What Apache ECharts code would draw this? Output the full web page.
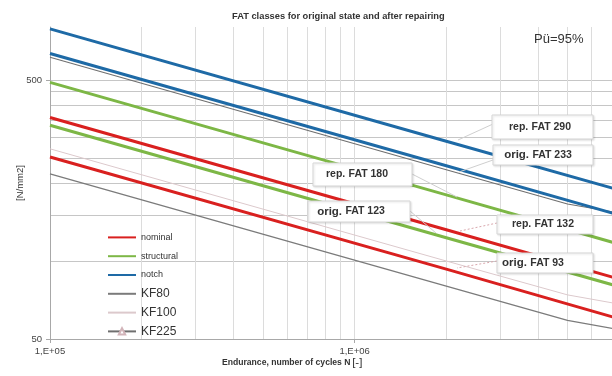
<!DOCTYPE html>
<html>
<head>
<meta charset="utf-8">
<script src="https://cdn.jsdelivr.net/npm/echarts@6/dist/echarts.min.js"></script>
<style>
html, body { margin: 0; padding: 0; background: #fff; }
#chart { width: 612px; height: 376px; }
</style>
</head>
<body>
<div id="chart"></div>
<script>
// Endurance (cycles) at which each S-N curve is given
const cycles = [1e5, 2e6, 1e7];
const kfCycles = [1e5, 2e6, 5e6, 1e7];

// Stress range [N/mm2] per curve (FAT value at 2E+06 cycles)
const notchRep    = [787, 290, 170];
const notchOrig   = [632, 233, 136];
const structRep   = [489, 180, 105];
const structOrig  = [334, 123, 72];
const nominalRep  = [358, 132, 77];
const nominalOrig = [252, 93, 54];

// Detail-category curves with knee at 5E+06
const kf80  = [217, 80, 59, 51];
const kf100 = [271, 100, 74, 64];
const kf225 = [611, 225, 166, 144];

// Axis ticks and grid values
const yTickLabels = [50, 500];
const xTickLabels = [1e5, 1e6];
const yGridValues = [100, 150, 200, 250, 300, 350, 400, 450, 500];
const xGridValues = [2e5, 3e5, 4e5, 5e5, 6e5, 7e5, 8e5, 9e5, 1e6,
                     2e6, 3e6, 4e6, 5e6, 6e6];

// Callout labels
const calloutPrefix = ['rep.', 'orig.', 'rep.', 'orig.', 'rep.', 'orig.'];
const calloutFat    = [290, 233, 180, 123, 132, 93];

const FONT = '"Liberation Sans", Arial, sans-serif';
const RED = '#d9201f', GREEN = '#7db746', BLUE = '#1e6aa6';

const pairs = (xs, ys) => xs.map((x, i) => [x, ys[i]]);

function curve(name, xs, ys, color, width, extra) {
  return Object.assign({
    name: name,
    type: 'line',
    data: pairs(xs, ys),
    symbol: 'none',
    silent: true,
    animation: false,
    lineStyle: { color: color, width: width },
    itemStyle: { color: color },
    z: 3
  }, extra || {});
}

const chart = echarts.init(document.getElementById('chart'), null, { renderer: 'canvas' });

const expLabel = v => '1,E+0' + Math.round(Math.log10(v));

// Callout boxes: [left, top, width, height, text centre x, leader polyline, dotted]
const calloutLayout = [
  [492, 115, 101, 24, 540, [[493, 124], [458, 140]], false],
  [493, 145, 100, 20, 538, [[493, 160], [459, 172]], false],
  [313, 163, 99, 23, 357, [[412, 174], [457, 197]], false],
  [308, 201, 102, 21, 351, [[410, 211], [436, 233]], false],
  [497, 215, 96, 19, 543, [[497, 223], [460, 231]], true],
  [497, 253, 96, 20, 533, [[497, 261], [457, 268]], true]
];

const graphics = [];
calloutLayout.forEach((c, i) => {
  const [l, t, w, h, cx, leader, dotted] = c;
  graphics.push({
    type: 'polyline', z: 90, silent: true,
    shape: { points: leader },
    style: { stroke: dotted ? '#d9a7ad' : '#cfcfcf', lineWidth: 1, lineDash: dotted ? [2, 2] : null, fill: null }
  });
  graphics.push({
    type: 'rect', z: 100, silent: true,
    shape: { x: l, y: t, width: w, height: h },
    style: { fill: '#ffffff', stroke: '#d6d6d6', lineWidth: 1,
             shadowBlur: 2, shadowColor: 'rgba(0,0,0,0.12)', shadowOffsetX: 1, shadowOffsetY: 1 }
  });
  graphics.push({
    type: 'text', z: 110, silent: true,
    x: cx, y: t + h / 2,
    style: {
      text: '{p|' + calloutPrefix[i] + '} {f|FAT ' + calloutFat[i] + '}',
      align: 'center', verticalAlign: 'middle',
      rich: {
        p: { fontFamily: FONT, fontWeight: 'bold', fontSize: calloutPrefix[i] === 'orig.' ? 11.5 : 10.5, fill: '#333' },
        f: { fontFamily: FONT, fontWeight: 'bold', fontSize: 10.5, fill: '#333' }
      }
    }
  });
});

const hiddenMarker = { opacity: 0 };

const option = {
  animation: false,
  backgroundColor: '#ffffff',
  title: [
    {
      text: 'FAT classes for original state and after repairing',
      left: 232, top: 12, padding: 0,
      textStyle: { fontFamily: FONT, fontSize: 9.3, fontWeight: 'bold', color: '#333' }
    },
    {
      text: 'Pü=95%',
      left: 534, top: 33, padding: 0,
      textStyle: { fontFamily: FONT, fontSize: 13, fontWeight: 'normal', color: '#333' }
    },
    {
      text: '{b|Endurance, number of cycles N}{s| }{n|[-]}',
      left: 222, top: 357, padding: 0,
      textStyle: {
        rich: {
          b: { fontFamily: FONT, fontSize: 8.6, fontWeight: 'bold', color: '#333' },
          s: { fontFamily: FONT, fontSize: 6 },
          n: { fontFamily: FONT, fontSize: 11.5, fontWeight: 'normal', color: '#333' }
        }
      }
    }
  ],
  grid: { left: 50, top: 27, bottom: 37, right: 0, containLabel: false },
  legend: {
    orient: 'vertical',
    left: 107, top: 228, padding: 0,
    itemWidth: 28, itemHeight: 8, itemGap: 0,
    selectedMode: false,
    textStyle: { fontFamily: FONT, color: '#333', fontSize: 9, lineHeight: 18.8 },
    data: [
      { name: 'nominal', itemStyle: hiddenMarker, textStyle: { fontSize: 9 } },
      { name: 'structural', itemStyle: hiddenMarker, textStyle: { fontSize: 9 } },
      { name: 'notch', itemStyle: hiddenMarker, textStyle: { fontSize: 9 } },
      { name: 'KF80', itemStyle: hiddenMarker, textStyle: { fontSize: 12 } },
      { name: 'KF100', itemStyle: hiddenMarker, textStyle: { fontSize: 12 } },
      { name: 'KF225', textStyle: { fontSize: 12 } }
    ]
  },
  xAxis: [
    {
      type: 'log', logBase: 10, min: 1e5, max: 7e6,
      axisLine: { show: false }, axisLabel: { show: false },
      axisTick: { show: false, customValues: xGridValues },
      splitLine: { show: true, lineStyle: { color: '#dcdcdc', width: 1 } },
      z: 0
    },
    {
      type: 'log', logBase: 10, min: 1e5, max: 7e6, position: 'bottom',
      axisLine: { show: true, lineStyle: { color: '#a8a8a8', width: 1 } },
      axisTick: { show: true, length: 4, customValues: xTickLabels, lineStyle: { color: '#a8a8a8' } },
      axisLabel: { customValues: xTickLabels, formatter: expLabel, margin: 7,
                   fontFamily: FONT, fontSize: 9.5, color: '#444' },
      splitLine: { show: false }
    }
  ],
  yAxis: [
    {
      type: 'log', logBase: 10, min: 50, max: 800,
      axisLine: { show: false }, axisLabel: { show: false },
      axisTick: { show: false, customValues: yGridValues },
      splitLine: { show: true, lineStyle: { color: '#c6c6c6', width: 1 } },
      z: 0
    },
    {
      type: 'log', logBase: 10, min: 50, max: 800, position: 'left',
      axisLine: { show: true, lineStyle: { color: '#a8a8a8', width: 1 } },
      axisTick: { show: true, length: 4, customValues: yTickLabels, lineStyle: { color: '#a8a8a8' } },
      axisLabel: { customValues: yTickLabels, margin: 8, fontFamily: FONT, fontSize: 9.5, color: '#444' },
      splitLine: { show: false },
      name: '[N/mm2]', nameLocation: 'middle', nameGap: 25, nameRotate: 90,
      nameMoveOverlap: false,
      nameTextStyle: { fontFamily: FONT, fontSize: 9.5, color: '#333' }
    }
  ],
  series: [
    curve('KF80', kfCycles, kf80, '#7b7b7b', 1.3),
    curve('KF100', kfCycles, kf100, '#dcc9cc', 1),
    curve('KF225', kfCycles, kf225, '#6f6f6f', 1.1, {
      symbol: 'triangle', showSymbol: false,
      itemStyle: { color: '#fff', borderColor: '#d2b4b9', borderWidth: 1 }
    }),
    curve('nominal', cycles, nominalOrig, RED, 3),
    curve('nominal', cycles, nominalRep, RED, 3),
    curve('structural', cycles, structOrig, GREEN, 3),
    curve('structural', cycles, structRep, GREEN, 3),
    curve('notch', cycles, notchOrig, BLUE, 3),
    curve('notch', cycles, notchRep, BLUE, 3)
  ],
  graphic: graphics
};

chart.setOption(option);
</script>
</body>
</html>
